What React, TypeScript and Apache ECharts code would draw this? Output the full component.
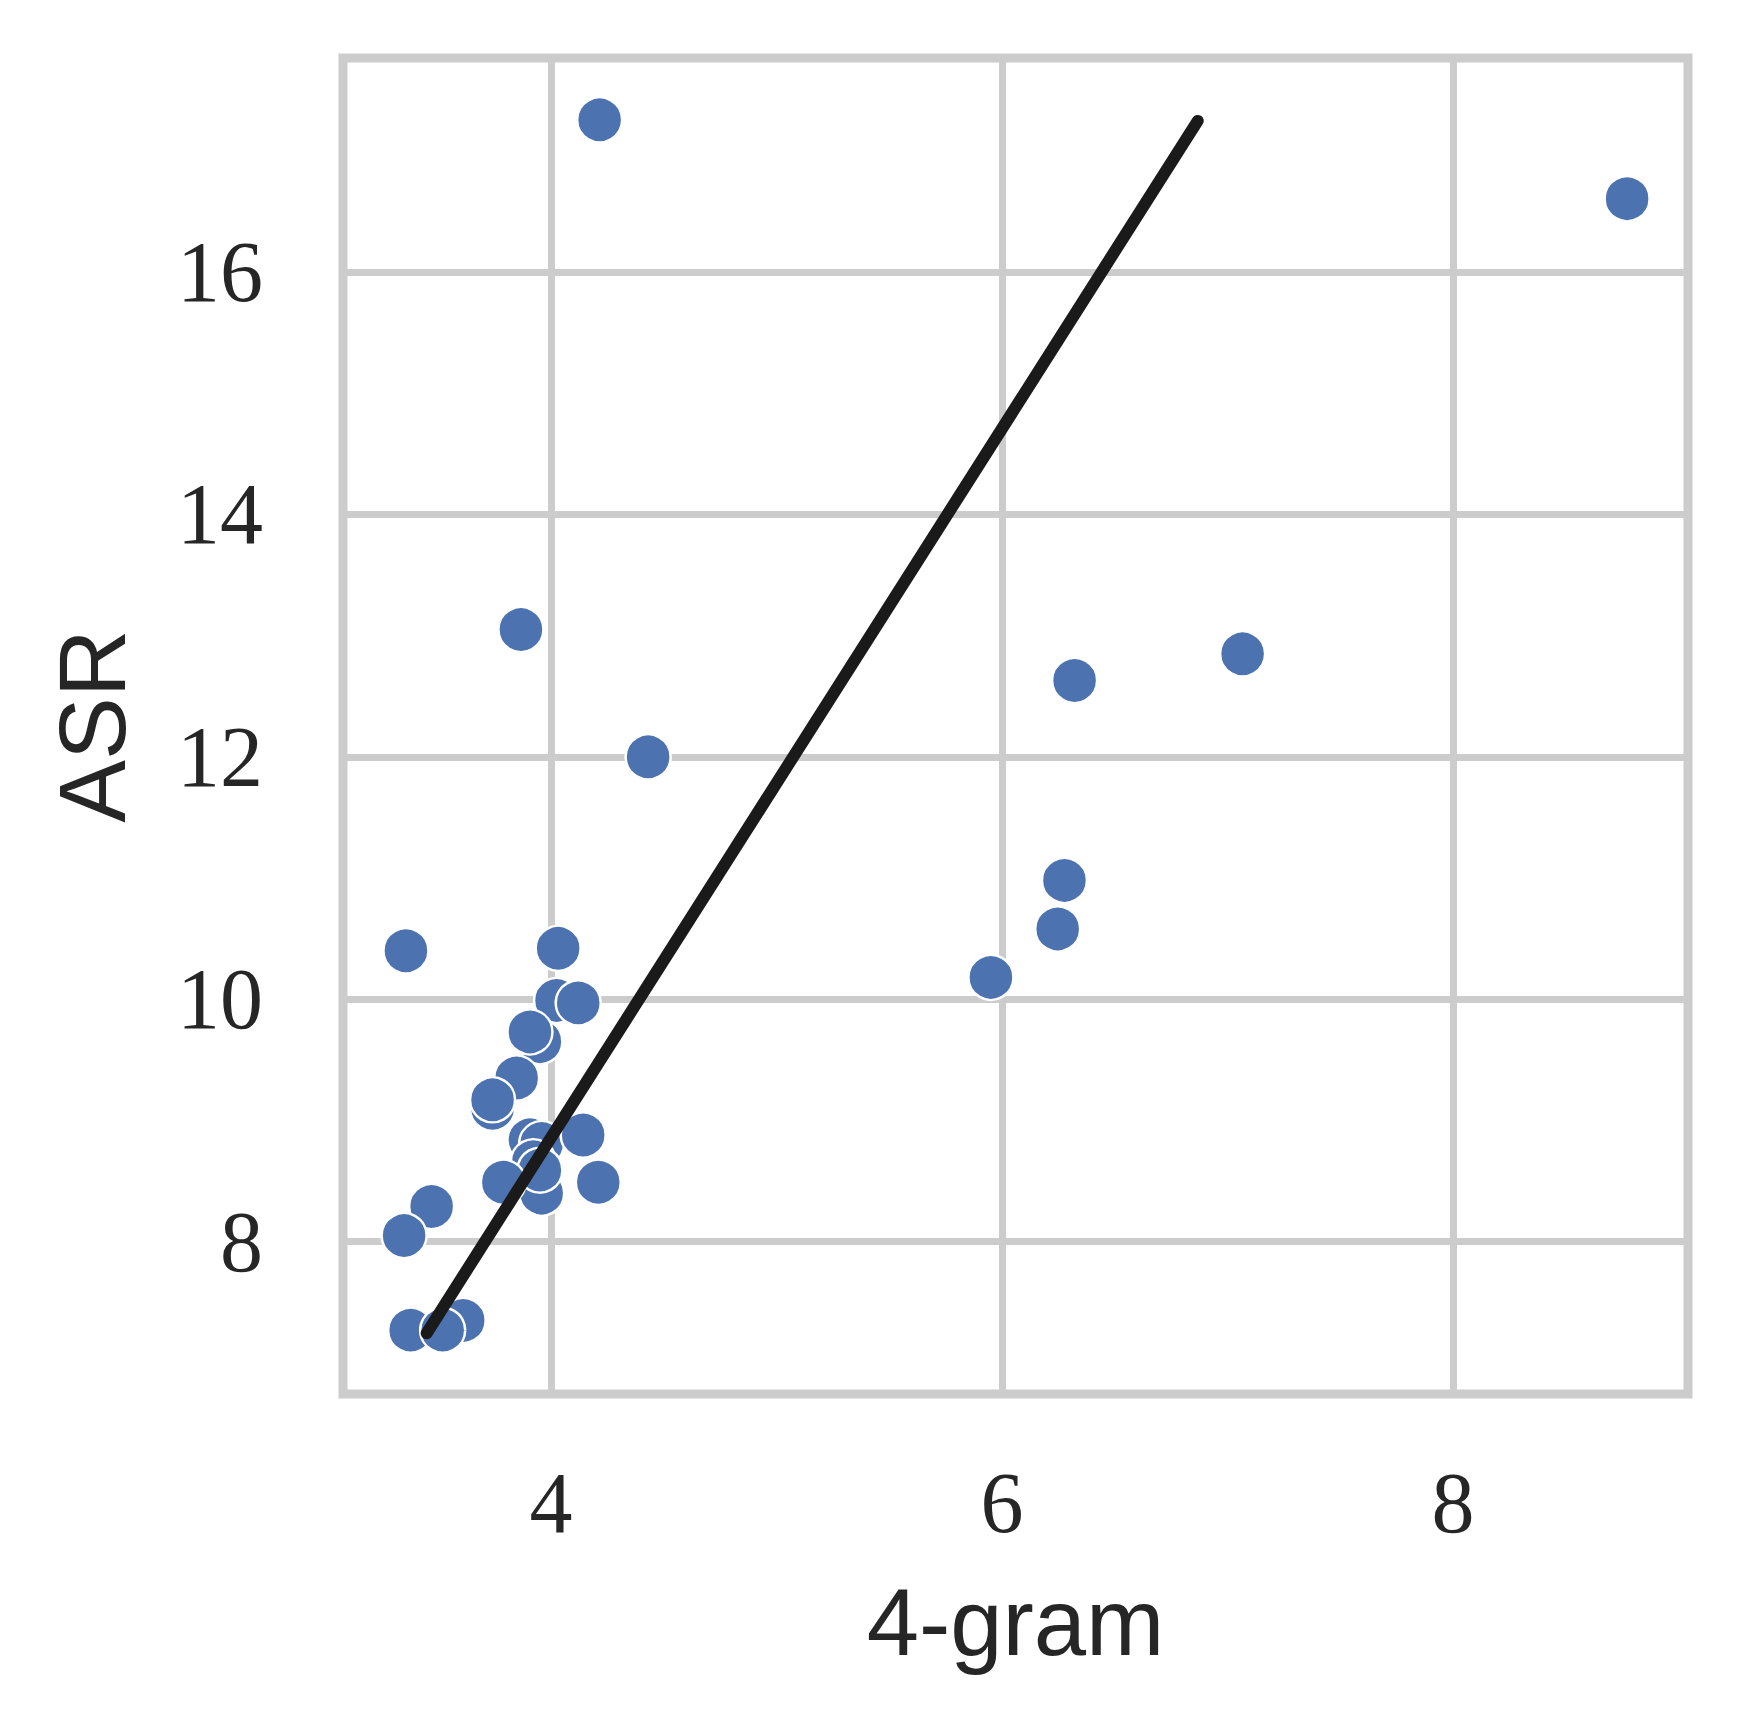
import React, { useEffect, useRef } from "react";
import * as echarts from "echarts";

// 4-gram (x) vs ASR (y) scatter points, in drawing order (back to front)
const xValues: number[] = [
  4.216, 8.772, 3.867, 4.431, 6.322, 7.067, 6.277, 6.247, 5.951,
  3.357, 4.032, 4.025, 4.121, 3.951, 3.907, 3.848, 3.741, 3.741,
  3.907, 3.959, 3.959, 3.922, 3.951, 3.789, 4.143, 4.21,
  3.471, 3.349, 3.611, 3.378, 3.52,
];
const yValues: number[] = [
  17.256, 16.605, 13.05, 12.0, 12.63, 12.85, 10.98, 10.58, 10.18,
  10.4, 10.42, 9.99, 9.97, 9.65, 9.73, 9.35, 9.1, 9.17,
  8.84, 8.81, 8.4, 8.66, 8.59, 8.49, 8.88, 8.49,
  8.29, 8.05, 7.35, 7.27, 7.27,
];

// fitted line end points
const lineX: number[] = [3.449, 6.868];
const lineY: number[] = [7.245, 17.247];

// axis ranges and ticks
const xMin = 3.078;
const xMax = 9.042;
const yMin = 6.743;
const yMax = 17.766;
const xTicks: number[] = [4, 6, 8];
const yTicks: number[] = [8, 10, 12, 14, 16];

const xTitle = "4-gram";
const yTitle = "ASR";

export default function App() {
  const ref = useRef<HTMLDivElement>(null);

  useEffect(() => {
    if (!ref.current) return;
    const chart = echarts.init(ref.current, undefined, { renderer: "svg" });
    const tickFont = "'Liberation Serif', 'DejaVu Serif', serif";
    const titleFont = "'Liberation Sans', Arial, sans-serif";
    chart.setOption({
      animation: false,
      backgroundColor: "#ffffff",
      grid: {
        left: 343,
        right: 58,
        top: 58,
        bottom: 337,
        show: true,
        borderColor: "#cccccc",
        borderWidth: 9,
        backgroundColor: "transparent",
        outerBoundsMode: "none",
        containLabel: false,
      },
      xAxis: {
        type: "value",
        min: xMin,
        max: xMax,
        name: xTitle,
        nameLocation: "middle",
        nameGap: 181,
        nameTextStyle: {
          fontFamily: titleFont,
          fontSize: 94,
          color: "#262626",
        },
        axisLine: { show: false },
        axisTick: { show: false, customValues: xTicks },
        axisLabel: {
          customValues: xTicks,
          fontFamily: tickFont,
          fontSize: 86,
          color: "#262626",
          margin: 66,
        },
        splitLine: {
          show: true,
          lineStyle: { color: "#cccccc", width: 7 },
        },
      },
      yAxis: {
        type: "value",
        min: yMin,
        max: yMax,
        name: yTitle,
        nameLocation: "middle",
        nameGap: 204,
        nameRotate: 90,
        nameTextStyle: {
          fontFamily: titleFont,
          fontSize: 94,
          color: "#262626",
        },
        axisLine: { show: false },
        axisTick: { show: false, customValues: yTicks },
        axisLabel: {
          customValues: yTicks,
          fontFamily: tickFont,
          fontSize: 86,
          color: "#262626",
          margin: 80,
        },
        splitLine: {
          show: true,
          lineStyle: { color: "#cccccc", width: 7 },
        },
      },
      series: [
        {
          type: "scatter",
          data: xValues.map((x, i) => [x, yValues[i]]),
          symbol: "circle",
          symbolSize: 45,
          itemStyle: {
            color: "#4c72b0",
            borderColor: "#ffffff",
            borderWidth: 2.5,
            opacity: 1,
          },
          z: 3,
        },
        {
          type: "line",
          data: lineX.map((x, i) => [x, lineY[i]]),
          showSymbol: false,
          symbol: "none",
          lineStyle: { color: "#1a1a1a", width: 12, cap: "round" },
          z: 4,
        },
      ],
    });
    return () => chart.dispose();
  }, []);

  return (
    <div
      ref={ref}
      style={{ position: "absolute", left: 0, top: 0, width: 1746, height: 1731 }}
    />
  );
}
